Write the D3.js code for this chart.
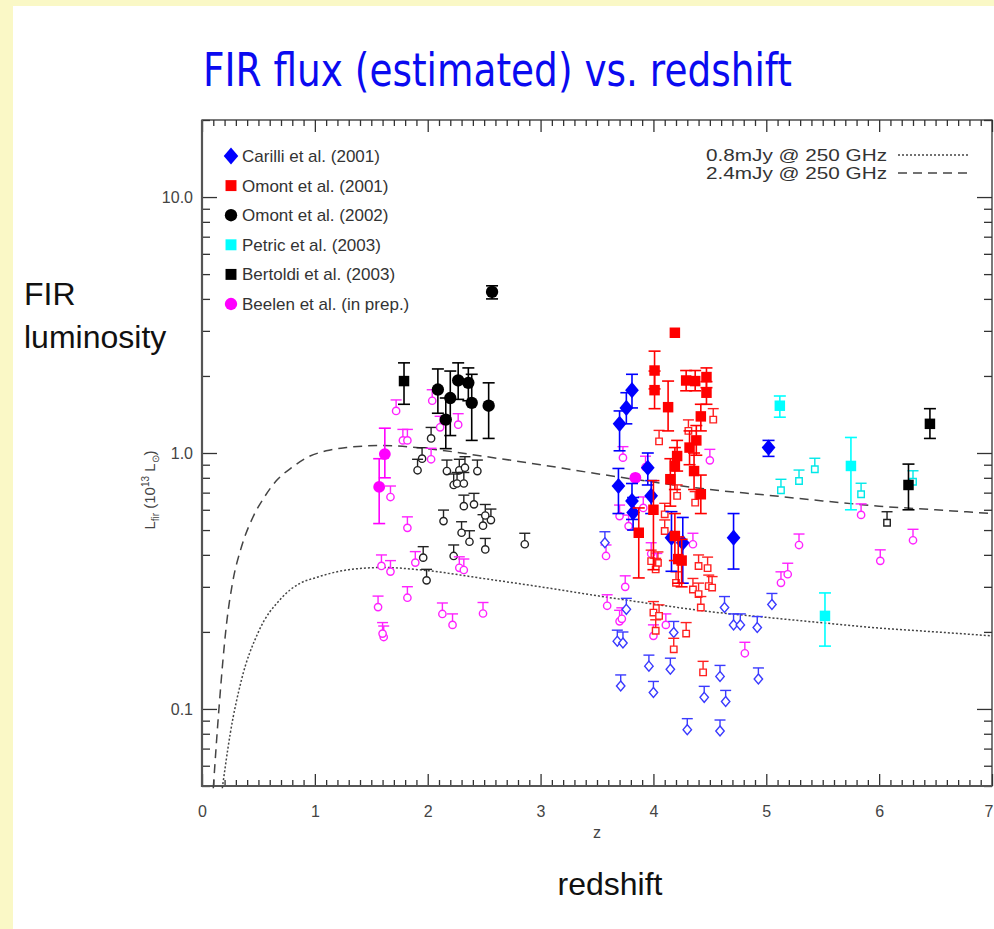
<!DOCTYPE html>
<html>
<head>
<meta charset="utf-8">
<script src="https://cdn.jsdelivr.net/npm/d3@7"></script>
<style>
  html, body { margin: 0; padding: 0; background: #faf8c6; }
  svg { display: block; }
</style>
</head>
<body>
<svg id="chart" width="994" height="929"></svg>
<script>
// ---- data: [z, L_fir] for upper limits, [z, L_fir, low, high] for detections (units 1e13 Lsun)
const carilliDet = [
  [3.81, 1.76, 1.50, 2.03], [3.76, 1.50, 1.30, 1.72], [3.70, 1.30, 1.02, 1.46],
  [5.02, 1.05, 0.97, 1.12], [3.69, 0.743, 0.58, 0.87], [3.81, 0.65, 0.55, 0.76],
  [3.82, 0.585, 0.50, 0.67], [3.95, 0.876, 0.75, 1.00], [3.98, 0.68, 0.58, 0.78],
  [4.16, 0.467, 0.345, 0.59], [4.26, 0.446, 0.31, 0.56], [4.71, 0.467, 0.352, 0.58]
];
const carilliLim = [
  [3.57, 0.446], [3.76, 0.245], [3.68, 0.184], [3.73, 0.181], [3.96, 0.147],
  [4.15, 0.143], [3.71, 0.123], [4.00, 0.116], [4.18, 0.199], [4.45, 0.111],
  [4.59, 0.134], [4.64, 0.107], [4.30, 0.083], [4.59, 0.082], [4.93, 0.131],
  [4.71, 0.213], [4.77, 0.213], [4.92, 0.208], [5.05, 0.256], [4.63, 0.249]
];
const omont01Det = [
  [4.19, 2.95, 2.95, 2.95], [4.01, 2.10, 1.78, 2.50], [4.01, 1.76, 1.49, 2.09],
  [4.29, 1.92, 1.75, 2.10], [4.37, 1.91, 1.75, 2.10], [4.47, 1.98, 1.80, 2.15],
  [4.47, 1.72, 1.55, 1.90], [4.13, 1.51, 1.22, 1.91], [4.42, 1.39, 1.22, 1.55],
  [4.38, 1.12, 0.98, 1.28], [4.32, 1.05, 0.90, 1.22], [4.21, 0.973, 0.85, 1.12],
  [4.19, 0.89, 0.72, 1.05], [4.36, 0.85, 0.72, 1.00], [4.15, 0.79, 0.62, 0.95],
  [4.42, 0.69, 0.58, 0.82], [4.00, 0.60, 0.35, 0.78], [3.87, 0.488, 0.325, 0.61],
  [4.19, 0.474, 0.38, 0.58], [4.22, 0.385, 0.31, 0.47], [4.25, 0.38, 0.30, 0.46]
];
const omont01Lim = [
  [4.10, 0.496], [3.98, 0.378], [4.04, 0.372], [4.02, 0.351], [4.20, 0.311],
  [4.40, 0.362], [4.48, 0.355], [4.35, 0.293], [4.40, 0.281], [4.49, 0.302],
  [4.52, 0.298], [4.42, 0.249], [4.00, 0.238], [4.05, 0.231], [4.02, 0.202],
  [4.29, 0.197], [4.18, 0.171], [4.44, 0.139], [4.21, 0.68], [4.10, 0.576],
  [4.37, 0.64], [4.05, 1.11], [4.53, 1.35], [4.31, 1.22]
];
const omont02Det = [
  [2.09, 1.77, 1.43, 2.13], [2.20, 1.64, 1.17, 2.09], [2.16, 1.35, 1.04, 1.64],
  [2.27, 1.92, 1.62, 2.25], [2.36, 1.88, 1.60, 2.15], [2.39, 1.57, 1.12, 2.03],
  [2.54, 1.53, 1.14, 1.88], [2.57, 4.26, 4.00, 4.50]
];
const omont02Lim = [
  [2.03, 1.14], [1.95, 0.95], [1.91, 0.856], [2.17, 0.85], [2.28, 0.856],
  [2.33, 0.876], [2.44, 0.85], [2.23, 0.75], [2.26, 0.76], [2.32, 0.76],
  [2.32, 0.62], [2.41, 0.63], [2.49, 0.52], [2.56, 0.547], [2.51, 0.57],
  [2.14, 0.542], [2.30, 0.488], [2.37, 0.45], [2.51, 0.42], [1.96, 0.39],
  [2.23, 0.396], [1.99, 0.318], [2.86, 0.44]
];
const petricDet = [
  [5.12, 1.53, 1.38, 1.67], [5.75, 0.89, 0.60, 1.15], [5.52, 0.231, 0.176, 0.284]
];
const petricLim = [
  [5.13, 0.715], [5.29, 0.777], [5.43, 0.864], [5.84, 0.69], [6.30, 0.772]
];
const bertoldiDet = [
  [1.79, 1.91, 1.55, 2.25], [6.26, 0.75, 0.60, 0.905], [6.45, 1.30, 1.14, 1.49]
];
const bertoldiLim = [
  [6.07, 0.534]
];
const beelenDet = [
  [1.62, 0.99, 0.80, 1.25], [1.57, 0.737, 0.53, 0.95], [3.84, 0.80, 0.80, 0.80]
];
const beelenLim = [
  [1.72, 1.46], [1.78, 1.12], [1.82, 1.12], [2.04, 1.60], [2.11, 1.26],
  [2.27, 1.29], [2.03, 0.945], [1.67, 0.673], [1.82, 0.51], [1.59, 0.362],
  [1.67, 0.344], [1.89, 0.373], [2.28, 0.356], [2.32, 0.349], [1.56, 0.25],
  [1.82, 0.272], [2.13, 0.235], [2.22, 0.213], [2.49, 0.236], [1.61, 0.191],
  [1.60, 0.197], [3.73, 0.959], [4.50, 0.936], [3.93, 0.88], [3.70, 0.567],
  [3.78, 0.518], [3.91, 0.61], [3.58, 0.396], [3.75, 0.30], [3.59, 0.253],
  [3.70, 0.22], [3.72, 0.225], [4.00, 0.193], [4.11, 0.213], [3.98, 0.404],
  [4.03, 0.367], [4.35, 0.44], [4.81, 0.165], [5.13, 0.311], [5.19, 0.336],
  [5.29, 0.437], [5.84, 0.573], [6.01, 0.379], [6.30, 0.456]
];
// detection-limit curves: [z, L_fir]
const curve24 = [
  [0.10, 0.049], [0.15, 0.10], [0.22, 0.22], [0.27, 0.31], [0.35, 0.43],
  [0.45, 0.56], [0.55, 0.67], [0.66, 0.78], [0.80, 0.88], [0.93, 0.96],
  [1.10, 1.02], [1.28, 1.05], [1.60, 1.07], [2.00, 1.04], [2.50, 0.97],
  [3.00, 0.90], [3.50, 0.83], [4.00, 0.77], [4.50, 0.72], [5.00, 0.685],
  [5.50, 0.65], [6.00, 0.62], [6.50, 0.60], [7.00, 0.58]
];
const curve08 = [
  [0.18, 0.049], [0.25, 0.08], [0.35, 0.13], [0.50, 0.20], [0.70, 0.27],
  [0.87, 0.31], [1.00, 0.325], [1.30, 0.35], [1.60, 0.357], [2.00, 0.347],
  [2.50, 0.323], [3.00, 0.30], [3.50, 0.277], [4.00, 0.257], [4.50, 0.24],
  [5.00, 0.228], [5.50, 0.217], [6.00, 0.207], [6.50, 0.20], [7.00, 0.193]
];
const xTicks = [0, 1, 2, 3, 4, 5, 6, 7];
const yTicks = [0.1, 1, 10];
const legendLabels = [
  "Carilli et al. (2001)", "Omont et al. (2001)", "Omont et al. (2002)",
  "Petric et al. (2003)", "Bertoldi et al. (2003)", "Beelen et al. (in prep.)"
];
const curveLabels = ["0.8mJy @ 250 GHz", "2.4mJy @ 250 GHz"];

// ---- layout
const svg = d3.select("#chart");
const W = 994, H = 929;
const P = { left: 202, right: 992, top: 120, bottom: 786 };

svg.append("rect").attr("x", 13).attr("y", 6).attr("width", W - 13).attr("height", H - 6).attr("fill", "#ffffff");

const x = d3.scaleLinear().domain([0, 7]).range([P.left, P.right]);
const y = d3.scaleLog().domain([0.05, 20]).range([P.bottom, P.top]);

// custom wide diamond for the Carilli markers
const wideDiamond = {
  draw(ctx, size) {
    const h = Math.sqrt(size) * 0.62, w = h * 0.85;
    ctx.moveTo(0, -h); ctx.lineTo(w, 0); ctx.lineTo(0, h); ctx.lineTo(-w, 0); ctx.closePath();
  }
};
const shapes = {
  diamond: wideDiamond,
  square: d3.symbolSquare,
  circle: d3.symbolCircle
};

// ---- titles
svg.append("text")
  .attr("x", 203).attr("y", 86)
  .attr("textLength", 589).attr("lengthAdjust", "spacingAndGlyphs")
  .attr("font-family", "'Comic Sans MS', 'DejaVu Sans', sans-serif")
  .attr("font-size", 46).attr("fill", "#0a0af0")
  .text("FIR flux (estimated) vs. redshift");

svg.append("text").attr("x", 24).attr("y", 305)
  .attr("font-family", "'Liberation Sans', Arial, sans-serif").attr("font-size", 32).attr("fill", "#111")
  .text("FIR");
svg.append("text").attr("x", 24).attr("y", 348)
  .attr("font-family", "'Liberation Sans', Arial, sans-serif").attr("font-size", 32).attr("fill", "#111")
  .text("luminosity");
svg.append("text").attr("x", 610).attr("y", 895).attr("text-anchor", "middle")
  .attr("font-family", "'Liberation Sans', Arial, sans-serif").attr("font-size", 32).attr("fill", "#111")
  .text("redshift");

// ---- axes
const axisFont = "'Liberation Sans', Arial, sans-serif";
const minorY = [];
[0.01, 0.1, 1].forEach(d => { for (let k = 2; k <= 9; k++) { const v = d * k; if (v >= 0.05 && v <= 20) minorY.push(v); } });
minorY.push(20);
const minorX = d3.range(1, 70).filter(i => i % 10 !== 0).map(i => i / 10);

function styleAxis(g) {
  g.selectAll("path.domain").remove();
  g.selectAll("line").attr("stroke", "#333").attr("stroke-width", 1.3);
  g.selectAll("text").attr("font-family", axisFont).attr("fill", "#444").attr("font-size", 16);
}

svg.append("g").attr("transform", `translate(${P.left},0)`)
  .call(d3.axisLeft(y).tickValues(yTicks).tickSizeInner(-15).tickSizeOuter(0).tickPadding(9).tickFormat(d3.format(".1f")))
  .call(styleAxis);
svg.append("g").attr("transform", `translate(${P.left},0)`)
  .call(d3.axisLeft(y).tickValues(minorY).tickSizeInner(-8).tickSizeOuter(0).tickFormat(""))
  .call(styleAxis);
svg.append("g").attr("transform", `translate(${P.right},0)`)
  .call(d3.axisRight(y).tickValues(yTicks).tickSizeInner(-15).tickSizeOuter(0).tickFormat(""))
  .call(styleAxis);
svg.append("g").attr("transform", `translate(${P.right},0)`)
  .call(d3.axisRight(y).tickValues(minorY).tickSizeInner(-8).tickSizeOuter(0).tickFormat(""))
  .call(styleAxis);

const xAxisG = svg.append("g").attr("transform", `translate(0,${P.bottom})`)
  .call(d3.axisBottom(x).tickValues(xTicks).tickSizeInner(-12).tickSizeOuter(0).tickPadding(20).tickFormat(d3.format("d")))
  .call(styleAxis);
// keep the last label inside the page edge
xAxisG.selectAll(".tick text").filter(d => d === 7).attr("text-anchor", "end").attr("dx", 1);
svg.append("g").attr("transform", `translate(0,${P.bottom})`)
  .call(d3.axisBottom(x).tickValues(minorX).tickSizeInner(-6).tickSizeOuter(0).tickFormat(""))
  .call(styleAxis);
svg.append("g").attr("transform", `translate(0,${P.top})`)
  .call(d3.axisTop(x).tickValues(xTicks).tickSizeInner(-12).tickSizeOuter(0).tickFormat(""))
  .call(styleAxis);
svg.append("g").attr("transform", `translate(0,${P.top})`)
  .call(d3.axisTop(x).tickValues(minorX).tickSizeInner(-6).tickSizeOuter(0).tickFormat(""))
  .call(styleAxis);

// frame
svg.append("rect").attr("x", P.left).attr("y", P.top)
  .attr("width", P.right - P.left).attr("height", P.bottom - P.top)
  .attr("fill", "none").attr("stroke", "#333").attr("stroke-width", 1.3);
svg.append("line").attr("x1", P.left).attr("x2", P.left).attr("y1", P.top).attr("y2", P.bottom + 1)
  .attr("stroke", "#555").attr("stroke-width", 2.2);
svg.append("line").attr("x1", P.left).attr("x2", P.right).attr("y1", P.bottom).attr("y2", P.bottom)
  .attr("stroke", "#555").attr("stroke-width", 2.2);

// axis titles
svg.append("text").attr("x", 597).attr("y", 838).attr("text-anchor", "middle")
  .attr("font-family", axisFont).attr("font-size", 16).attr("fill", "#444").text("z");

const yl = svg.append("text")
  .attr("transform", "translate(155,490) rotate(-90)")
  .attr("text-anchor", "middle")
  .attr("font-family", axisFont).attr("font-size", 15).attr("fill", "#444");
yl.append("tspan").text("L");
yl.append("tspan").attr("font-size", 10).attr("dy", 4).text("fir");
yl.append("tspan").attr("dy", -4).text("  (10");
yl.append("tspan").attr("font-size", 10).attr("dy", -6).text("13");
yl.append("tspan").attr("dy", 6).text(" L");
yl.append("tspan").attr("font-size", 10).attr("dy", 4).text("⊙");
yl.append("tspan").attr("dy", -4).text(")");

// ---- curves
const line = d3.line().x(d => x(d[0])).y(d => y(d[1])).curve(d3.curveMonotoneX);
const plot = svg.append("g");
plot.append("path").datum(curve24).attr("d", line).attr("fill", "none")
  .attr("stroke", "#444").attr("stroke-width", 1.5).attr("stroke-dasharray", "9,6");
plot.append("path").datum(curve08).attr("d", line).attr("fill", "none")
  .attr("stroke", "#444").attr("stroke-width", 1.5).attr("stroke-dasharray", "2,2");

// ---- markers
function drawLimits(data, color, shape, size) {
  const g = plot.append("g").attr("stroke", color).attr("stroke-width", 1.4).attr("fill", "none");
  data.forEach(d => {
    const cx = x(d[0]), cy = y(d[1]);
    g.append("line").attr("x1", cx).attr("x2", cx).attr("y1", cy - 11).attr("y2", cy - 3);
    g.append("line").attr("x1", cx - 5.5).attr("x2", cx + 5.5).attr("y1", cy - 11).attr("y2", cy - 11);
    g.append("path").attr("transform", `translate(${cx},${cy})`)
      .attr("d", d3.symbol().type(shapes[shape]).size(size)()).attr("fill", "#fff");
  });
}
function drawDetections(data, color, shape, size) {
  const g = plot.append("g");
  data.forEach(d => {
    const cx = x(d[0]), cy = y(d[1]);
    if (d[2] !== d[3]) {
      const eg = g.append("g").attr("stroke", color).attr("stroke-width", 1.6);
      eg.append("line").attr("x1", cx).attr("x2", cx).attr("y1", y(d[2])).attr("y2", y(d[3]));
      eg.append("line").attr("x1", cx - 6).attr("x2", cx + 6).attr("y1", y(d[2])).attr("y2", y(d[2]));
      eg.append("line").attr("x1", cx - 6).attr("x2", cx + 6).attr("y1", y(d[3])).attr("y2", y(d[3]));
    }
    g.append("path").attr("transform", `translate(${cx},${cy})`)
      .attr("d", d3.symbol().type(shapes[shape]).size(size)()).attr("fill", color);
  });
}

drawLimits(omont02Lim, "#222", "circle", 42);
drawLimits(bertoldiLim, "#222", "square", 42);
drawLimits(beelenLim, "#ff22ff", "circle", 42);
drawLimits(carilliLim, "#3a3aff", "diamond", 64);
drawLimits(omont01Lim, "#ff2020", "square", 42);
drawLimits(petricLim, "#00e8e8", "square", 42);

drawDetections(omont02Det, "#000", "circle", 120);
drawDetections(bertoldiDet, "#000", "square", 110);
drawDetections(beelenDet, "#ff00ff", "circle", 110);
drawDetections(carilliDet, "#0000ff", "diamond", 170);
drawDetections(omont01Det, "#ff0000", "square", 110);
drawDetections(petricDet, "#00ffff", "square", 110);

// ---- legends
const legendItems = [
  { shape: "diamond", color: "#0000ff", size: 190 },
  { shape: "square", color: "#ff0000", size: 120 },
  { shape: "circle", color: "#000000", size: 120 },
  { shape: "square", color: "#00ffff", size: 120 },
  { shape: "square", color: "#000000", size: 120 },
  { shape: "circle", color: "#ff00ff", size: 120 }
];
const leg = svg.append("g");
legendLabels.forEach((lab, i) => {
  const cy = 156 + i * 29.6;
  const it = legendItems[i];
  leg.append("path").attr("transform", `translate(231,${cy})`)
    .attr("d", d3.symbol().type(shapes[it.shape]).size(it.size)()).attr("fill", it.color);
  leg.append("text").attr("x", 242).attr("y", cy + 6)
    .attr("font-family", axisFont).attr("font-size", 17).attr("fill", "#333").text(lab);
});

const dashes = ["2,2", "9,6"];
curveLabels.forEach((lab, i) => {
  const cy = 155 + i * 18;
  svg.append("text").attr("x", 706).attr("y", cy + 6)
    .attr("textLength", 181).attr("lengthAdjust", "spacingAndGlyphs")
    .attr("font-family", axisFont).attr("font-size", 16).attr("fill", "#333").text(lab);
  svg.append("line").attr("x1", 898).attr("x2", 968).attr("y1", cy).attr("y2", cy)
    .attr("stroke", "#444").attr("stroke-width", 1.4).attr("stroke-dasharray", dashes[i]);
});
</script>
</body>
</html>
